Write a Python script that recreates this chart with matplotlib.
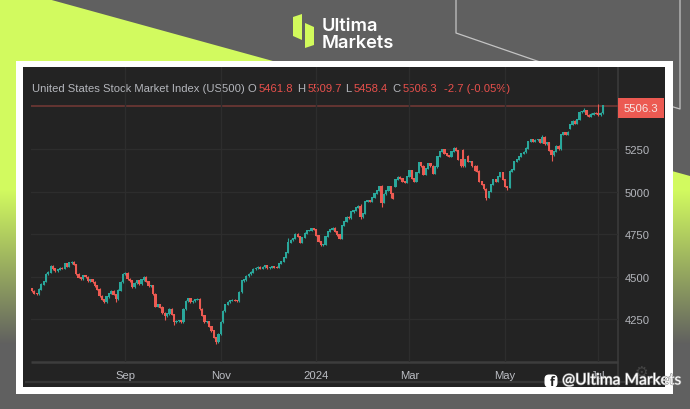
import numpy as np
import matplotlib
matplotlib.use("Agg")
import matplotlib.pyplot as plt
import matplotlib.patheffects as pe
from matplotlib.patches import Polygon, Rectangle, FancyBboxPatch

closes = [4415,4400,4397,4426,4455,4470,4515,4526,4562,4545,4532,4540,4550,4548,4574,4560,4580,4585,4570,4515,
          4495,4485,4505,4497,4474,4480,4468,4445,4426,4385,4365,4350,4380,4400,4415,4395,4368,4420,4468,4515,
          4520,4485,4474,4438,4462,4474,4456,4480,4497,4470,4444,4445,4397,4326,4335,4320,4285,4268,4280,4309,
          4275,4232,4238,4240,4232,4309,4356,4370,4350,4356,4365,4368,4309,4270,4232,4235,4205,4180,4140,4115,
          4162,4232,4297,4335,4350,4360,4362,4358,4356,4409,4474,4480,4503,4515,4526,4544,4550,4555,4548,4556,
          4565,4550,4552,4560,4555,4552,4575,4590,4610,4640,4700,4715,4725,4750,4735,4700,4730,4755,4770,4772,
          4780,4775,4740,4705,4685,4690,4735,4765,4775,4785,4765,4745,4725,4800,4825,4850,4845,4880,4890,4905,
          4915,4850,4870,4940,4945,4940,4965,4990,5005,5030,4935,4985,5005,5030,4990,4960,5070,5085,5078,5060,
          5055,5090,5125,5075,5060,5110,5170,5150,5100,5135,5165,5150,5105,5145,5205,5235,5245,5225,5210,5205,
          5235,5255,5240,5190,5150,5150,5190,5175,5175,5150,5125,5120,5060,5040,5015,4965,5000,5040,5070,5060,
          5090,5110,5070,5030,5025,5120,5130,5175,5190,5205,5225,5232,5255,5295,5305,5295,5303,5305,5290,5320,
          5280,5290,5240,5215,5235,5268,5250,5335,5345,5335,5350,5395,5415,5400,5425,5468,5470,5478,5450,5440,
          5455,5462,5458,5450,5462,5506]
# sessions whose open differs from the prior close (gaps and long candles)
open_gaps = {156: 5030, 185: 5240, 187: 5205, 191: 5150, 231: 5370, 245: 5462}
notable_highs = {110: 4725, 141: 4925, 150: 5040, 185: 5250, 187: 5215, 219: 5335, 243: 5515, 237: 5490, 245: 5510}
notable_lows = {36: 4350, 57: 4245, 61: 4215, 79: 4105, 141: 4838, 150: 4909, 154: 4960, 195: 4950, 223: 5180, 204: 5010}
month_labels = ["Sep", "Nov", "2024", "Mar", "May", "Jul"]
month_index = [40, 81, 122, 162, 203, 243]
price_ticks = [4250, 4500, 4750, 5000, 5250]
last_price = 5506.3
header_parts = [("United States Stock Market Index (US500)", 32, "g"), ("O", 247, "g"), ("5461.8", 259, "r"),
                ("H", 297, "g"), ("5509.7", 308, "r"), ("L", 345, "g"), ("5458.4", 354, "r"),
                ("C", 392, "g"), ("5506.3", 403, "r"), ("-2.7 (-0.05%)", 444, "r")]

UP, DOWN = "#2aa79b", "#ec5a52"
W, H = 690, 410
FONT = "Liberation Sans"
fig = plt.figure(figsize=(W / 100, H / 100), dpi=100)

bg = fig.add_axes([0, 0, 1, 1], zorder=0)
bg.set_xlim(0, W); bg.set_ylim(H, 0); bg.axis("off")
bg.add_patch(Rectangle((0, 0), W, H, fc="#606060", ec="none"))
lime = np.array([210, 250, 95]) / 255
gray = np.array([96, 96, 96]) / 255
t = np.clip((np.arange(H) - 190) / 155, 0, 1)[:, None, None]
grad = (lime[None, None, :] * (1 - t) + gray[None, None, :] * t)
im = bg.imshow(grad, extent=(0, W, H, 0), aspect="auto", zorder=1)
clip = Polygon([(0, 0), (48, 0), (690, 177), (690, 410), (0, 410)], transform=bg.transData, fc="none", ec="none")
bg.add_patch(clip)
im.set_clip_path(clip)
bg.set_xlim(0, W); bg.set_ylim(H, 0)
bg.plot([456, 456, 540], [0, 34, 63], color="#c4c4c4", lw=0.9, zorder=2)
bg.plot([680, 680, 670], [0, 110, 107], color="#c4c4c4", lw=0.9, zorder=2)
bg.add_patch(Polygon([(293, 18), (302, 15), (302, 41), (293, 37)], fc="#d2fa5c", ec="none", zorder=2))
bg.add_patch(Polygon([(305, 24), (314, 28), (314, 46), (305, 49)], fc="#d2fa5c", ec="none", zorder=2))
bg.text(322, 31, "Ultima", color="white", fontsize=13.2, family="Inter", weight=600, va="baseline", zorder=2)
bg.text(322, 47.5, "Markets", color="white", fontsize=13.2, family="Inter", weight=600, va="baseline", zorder=2)
bg.add_patch(Rectangle((16, 62), 657, 333, fc="white", ec="none", zorder=3))
bg.add_patch(Rectangle((23, 68), 642, 320, fc="#232323", ec="none", zorder=4))
bg.plot([618, 618], [68, 388], color="#3a3a3a", lw=1.2, zorder=5, solid_capstyle="butt")
bg.plot([25, 665], [383, 383], color="#363636", lw=1.6, zorder=5, solid_capstyle="butt")
bg.plot([31, 618], [363, 363], color="#3d3d3d", lw=1.8, zorder=5, solid_capstyle="butt")
for part, x, kind in header_parts:
    bg.text(x, 89.5, part, color="#b4b6bc" if kind == "g" else "#e8504c", fontsize=8.1, family=FONT, va="center", zorder=6)
bg.plot([31, 618], [107, 107], color="#643532", lw=1.4, zorder=5, solid_capstyle="butt")
bg.add_patch(Rectangle((618, 99), 46, 20, fc=DOWN, ec="none", zorder=6))
bg.text(641, 109, f"{last_price:.1f}", color="#f6e6e4", fontsize=8.1, family=FONT, ha="center", va="center", zorder=7)
bg.text(641, 372, "\u2699", color="#444444", fontsize=11, family="DejaVu Sans", ha="center", va="center", zorder=6)

# chart area: x pixels 31..618, y pixels 68..363
ax = fig.add_axes([31 / W, 1 - 363 / H, (618 - 31) / W, (363 - 68) / H], zorder=1)
ax.patch.set_alpha(0)
n = len(closes)
x = np.arange(n)
c = np.array(closes, float)
o = np.r_[c[0] + 12, c[:-1]]
for k, v in open_gaps.items():
    o[k] = v
hi = np.maximum(o, c) + 4
lo = np.minimum(o, c) - 4
for k, v in notable_highs.items():
    hi[k] = v
for k, v in notable_lows.items():
    lo[k] = v
col = [UP if cc >= oo else DOWN for oo, cc in zip(o, c)]
ax.vlines(x, lo, hi, colors=col, lw=0.8, zorder=3)
ax.bar(x, np.abs(c - o) + 5, bottom=np.minimum(o, c) - 2.5, width=0.95, color=col, lw=0, zorder=3)
ax.set_xlim(-1 / 2.33, (618 - 32) / 2.33)
ax.set_ylim(5250 - (363 - 150) / 0.17, 5250 + (150 - 68) / 0.17)
ax.set_yticks(price_ticks)
ax.set_xticks(month_index, month_labels)
ax.yaxis.tick_right()
ax.grid(True, color="#2d2d2d", lw=1)
ax.set_axisbelow(True)
for s in ax.spines.values():
    s.set_visible(False)
ax.tick_params(axis="y", length=0, pad=5, labelcolor="#b4b6bc", labelsize=8.1)
ax.tick_params(axis="x", length=0, pad=5.5, labelcolor="#bcbec4", labelsize=8.1)
for lb in ax.get_xticklabels() + ax.get_yticklabels():
    lb.set_family(FONT)

top = fig.add_axes([0, 0, 1, 1], zorder=2)
top.set_xlim(0, W); top.set_ylim(H, 0); top.axis("off")
top.add_patch(FancyBboxPatch((546, 377), 10, 10, boxstyle="round,pad=1.5,rounding_size=4.5", fc="white", ec="none"))
top.text(552, 382.5, "f", color="#222222", fontsize=9, family="Open Sans", weight="bold", ha="center", va="center")
top.text(562, 381.5, "@Ultima Markets", color="white", fontsize=11.3, family="Lato", va="center",
         path_effects=[pe.withStroke(linewidth=0.9, foreground="#8a8a8a")])

fig.savefig("out.png", dpi=100)
